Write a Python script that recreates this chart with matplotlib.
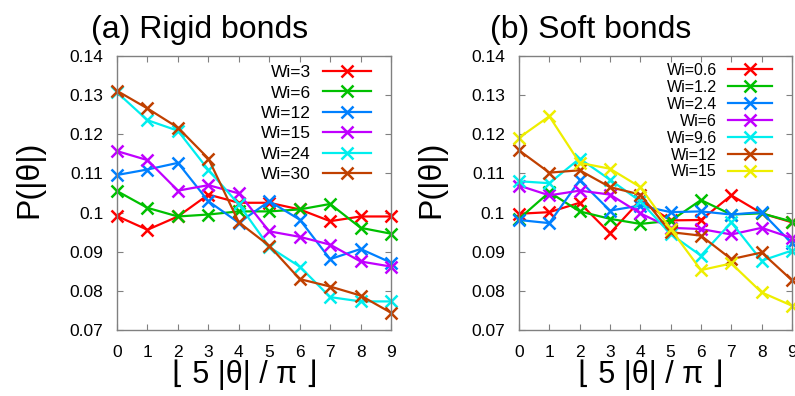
import matplotlib
matplotlib.use("Agg")
import matplotlib.pyplot as plt

plt.rcParams['font.family'] = ['Liberation Sans', 'DejaVu Sans']

x = list(range(10))

# (a) rigid bonds
rigid_labels = ['Wi=3', 'Wi=6', 'Wi=12', 'Wi=15', 'Wi=24', 'Wi=30']
rigid_wi3 = [0.0991, 0.0956, 0.0990, 0.1046, 0.1025, 0.1025, 0.1008, 0.0978, 0.0990, 0.0990]
rigid_wi6 = [0.1055, 0.1012, 0.0990, 0.0995, 0.1003, 0.1003, 0.1008, 0.1022, 0.0961, 0.0946]
rigid_wi12 = [0.1096, 0.1110, 0.1127, 0.1029, 0.0974, 0.1029, 0.0982, 0.0881, 0.0907, 0.0872]
rigid_wi15 = [0.1157, 0.1134, 0.1056, 0.1070, 0.1049, 0.0952, 0.0938, 0.0918, 0.0875, 0.0862]
rigid_wi24 = [0.1307, 0.1236, 0.1209, 0.1109, 0.1021, 0.0912, 0.0862, 0.0784, 0.0773, 0.0773]
rigid_wi30 = [0.1311, 0.1266, 0.1217, 0.1138, 0.0975, 0.0915, 0.0830, 0.0811, 0.0788, 0.0744]

# (b) soft bonds
soft_labels = ['Wi=0.6', 'Wi=1.2', 'Wi=2.4', 'Wi=6', 'Wi=9.6', 'Wi=12', 'Wi=15']
soft_wi06 = [0.0997, 0.1001, 0.1025, 0.0947, 0.1031, 0.0980, 0.0981, 0.1044, 0.0998, 0.0975]
soft_wi12a = [0.0984, 0.1052, 0.1003, 0.0984, 0.0971, 0.0979, 0.1032, 0.0995, 0.0998, 0.0977]
soft_wi24 = [0.0981, 0.0973, 0.1082, 0.1005, 0.1018, 0.1001, 0.1003, 0.0995, 0.1001, 0.0921]
soft_wi6 = [0.1069, 0.1044, 0.1056, 0.1046, 0.0998, 0.0961, 0.0958, 0.0944, 0.0961, 0.0935]
soft_wi96 = [0.1080, 0.1075, 0.1138, 0.1084, 0.1029, 0.0945, 0.0890, 0.0975, 0.0877, 0.0903]
soft_wi12 = [0.1159, 0.1102, 0.1108, 0.1065, 0.1046, 0.0950, 0.0941, 0.0881, 0.0898, 0.0827]
soft_wi15 = [0.1191, 0.1246, 0.1127, 0.1112, 0.1065, 0.0958, 0.0853, 0.0870, 0.0796, 0.0762]

colors = ['#ff0000', '#00c000', '#0080ff', '#c000ff', '#00eeee', '#c04000', '#eeee00']
grey = '#808080'


def panel(ax, series, labels, leg_size, leg_space, anchor):
    for i, (ys, lab) in enumerate(zip(series, labels)):
        ax.plot(x, ys, color=colors[i], lw=1.6, marker='x', ms=9, mew=1.8,
                label=lab, clip_on=False)
    ax.set_xlim(0, 9)
    ax.set_ylim(0.07, 0.14)
    ax.set_xticks(x)
    ax.set_yticks([0.07, 0.08, 0.09, 0.1, 0.11, 0.12, 0.13, 0.14])
    ax.set_yticklabels(['0.07', '0.08', '0.09', '0.1', '0.11', '0.12', '0.13', '0.14'])
    for s in ax.spines.values():
        s.set_color(grey)
        s.set_linewidth(1.0)
    ax.tick_params(direction='in', length=4, width=0.8, color=grey,
                   top=True, right=True, labelsize=12.5)
    ax.tick_params(axis='x', pad=11)
    ax.tick_params(axis='y', pad=10)
    ax.legend(loc='upper right', bbox_to_anchor=anchor, bbox_transform=fig.transFigure,
              frameon=False, markerfirst=False, fontsize=leg_size,
              handlelength=2.75, handletextpad=0.7, labelspacing=leg_space,
              borderpad=0, borderaxespad=0)


fig = plt.figure(figsize=(7.95, 3.96), dpi=100)
ax1 = fig.add_axes([0.1472, 0.1667, 0.3447, 0.6919])
ax2 = fig.add_axes([0.6528, 0.1667, 0.3434, 0.6919])

panel(ax1, [rigid_wi3, rigid_wi6, rigid_wi12, rigid_wi15, rigid_wi24, rigid_wi30],
      rigid_labels, 12.5, 0.3, (371 / 795, 1 - 65 / 396))
panel(ax2, [soft_wi06, soft_wi12a, soft_wi24, soft_wi6, soft_wi96, soft_wi12, soft_wi15],
      soft_labels, 11.5, 0.12, (772 / 795, 1 - 63 / 396))

fig.text(0.2516, 0.904, '(a) Rigid bonds', fontsize=23, ha='center', va='baseline')
fig.text(0.743, 0.904, '(b) Soft bonds', fontsize=23, ha='center', va='baseline')
fig.text(0.0365, 0.548, 'P(|θ|)', fontsize=23, rotation=90, ha='center', va='center')
fig.text(0.543, 0.548, 'P(|θ|)', fontsize=23, rotation=90, ha='center', va='center')
fig.text(0.308, 0.053, '⌊ 5 |θ| / π ⌋', fontsize=22, ha='center', va='center')
fig.text(0.819, 0.053, '⌊ 5 |θ| / π ⌋', fontsize=22, ha='center', va='center')

fig.savefig('out.png', dpi=100)
